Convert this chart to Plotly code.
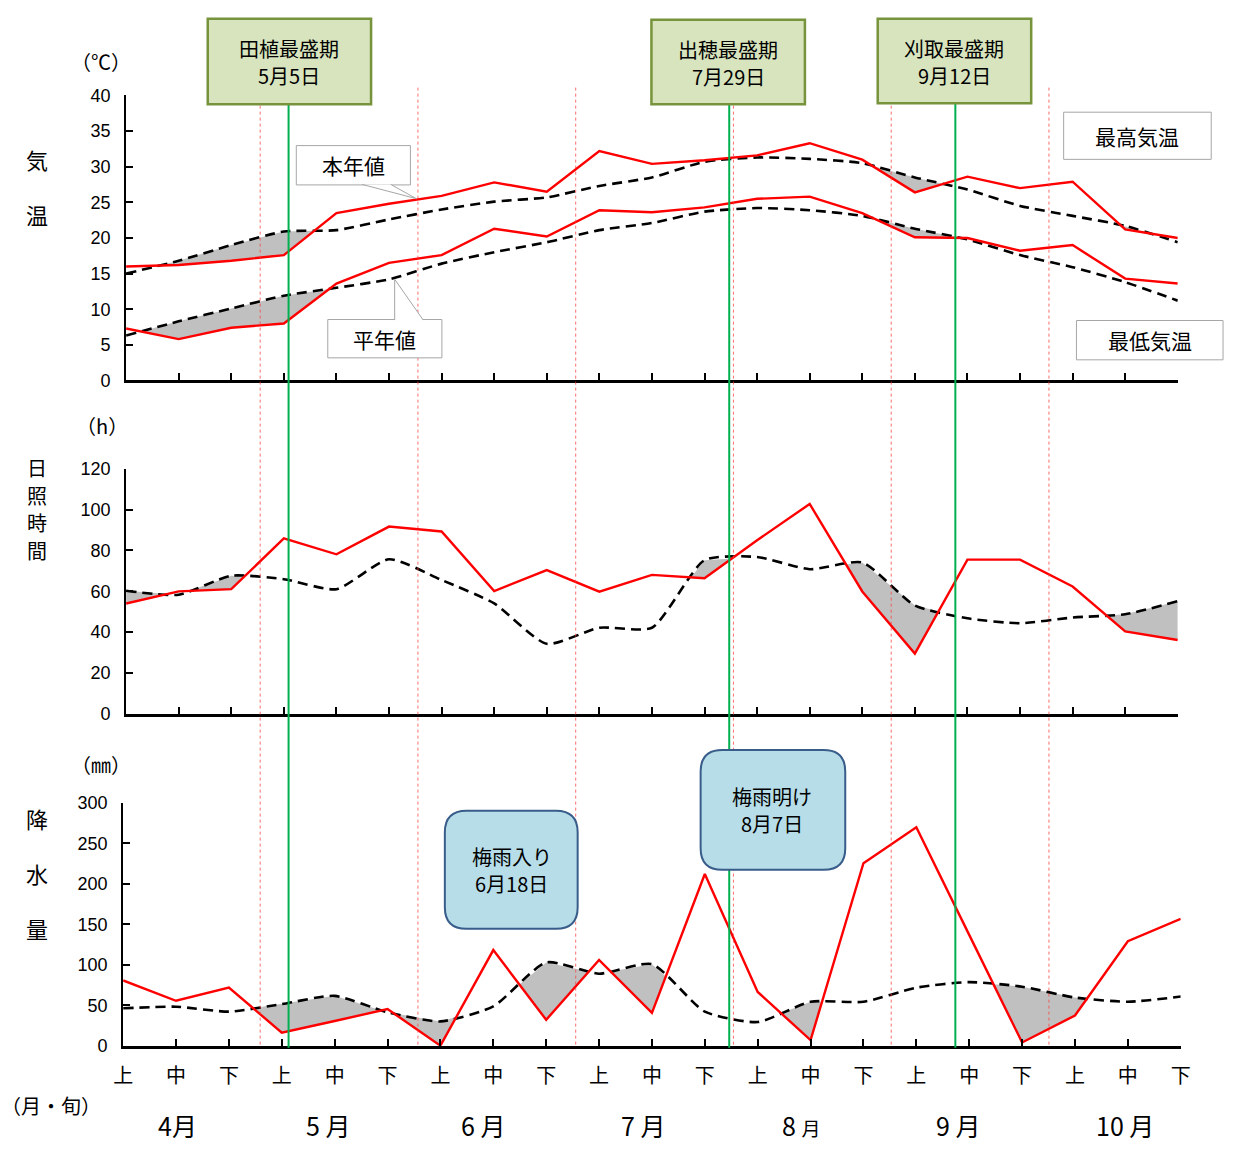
import plotly.graph_objects as go

W, H = 1235, 1151

# ---------------- data ----------------
month_labels = ["4月", "5 月", "6 月", "7 月", "8 <span style='font-size:19px'>月</span>", "9 月", "10 月"]
decade_labels = ["上", "中", "下"] * 7
periods = list(range(21))

tmax_obs = [16.0, 16.2, 16.8, 17.6, 23.5, 24.8, 25.9, 27.8, 26.5, 32.2, 30.4, 30.9, 31.6, 33.3, 31.0, 26.4, 28.6, 27.0, 27.9, 21.2, 20.0]
tmax_norm = [15.0, 16.8, 19.0, 20.9, 21.1, 22.6, 24.0, 25.1, 25.7, 27.3, 28.5, 30.7, 31.3, 31.1, 30.5, 28.5, 26.8, 24.5, 23.1, 21.7, 19.4]
tmin_obs = [7.3, 5.8, 7.4, 8.0, 13.6, 16.5, 17.6, 21.3, 20.2, 23.9, 23.6, 24.3, 25.5, 25.8, 23.5, 20.1, 20.0, 18.2, 19.0, 14.3, 13.6]
tmin_norm = [6.3, 8.3, 10.1, 11.9, 13.0, 14.2, 16.4, 18.0, 19.4, 21.1, 22.1, 23.7, 24.2, 23.9, 23.1, 21.3, 19.8, 17.6, 15.9, 13.8, 11.2]

sun_obs = [54.0, 59.9, 61.0, 85.9, 78.1, 91.7, 89.3, 60.1, 70.4, 59.8, 68.0, 66.4, 85.0, 102.8, 59.9, 29.4, 75.5, 75.5, 62.3, 40.3, 36.1]
sun_norm = [60.2, 58.3, 67.6, 65.9, 61.0, 75.7, 65.5, 54.0, 34.2, 42.1, 42.1, 75.2, 76.8, 70.8, 74.1, 53.0, 46.7, 44.3, 47.1, 48.7, 55.1]

prec_obs = [80.6, 55.5, 71.7, 16.2, 30.5, 45.3, 0.0, 118.2, 32.0, 106.0, 40.5, 212.2, 66.4, 6.9, 225.5, 270.0, 137.0, 4.0, 37.3, 129.1, 156.7]
prec_norm = [46.2, 48.2, 42.1, 51.4, 61.6, 41.3, 30.0, 48.6, 102.9, 89.0, 100.8, 42.1, 29.2, 54.3, 54.3, 71.7, 78.6, 72.9, 59.5, 54.3, 60.7]

# event positions (in decade index units)
events = [("田植最盛期", "5月5日", 3.09), ("出穂最盛期", "7月29日", 11.47), ("刈取最盛期", "9月12日", 15.77)]
month_bounds = [2.55, 5.55, 8.55, 11.55, 14.55, 17.55]

JP = "Noto Sans CJK JP"
NUM = "Liberation Sans, Arial, sans-serif"


def px(x):
    return x / W


def py(y):
    return 1 - y / H


def deficit_polygons(xs, obs, norm):
    pts = []
    n = len(xs)
    for i in range(n):
        pts.append((xs[i], obs[i], norm[i]))
        if i < n - 1:
            d0 = norm[i] - obs[i]
            d1 = norm[i + 1] - obs[i + 1]
            if d0 * d1 < 0:
                t = d0 / (d0 - d1)
                xc = xs[i] + t * (xs[i + 1] - xs[i])
                yc = obs[i] + t * (obs[i + 1] - obs[i])
                pts.append((xc, yc, yc))
    runs, cur = [], []
    for p in pts:
        if p[2] - p[1] >= -1e-9:
            cur.append(p)
        else:
            if len(cur) > 1:
                runs.append(cur)
            cur = []
    if len(cur) > 1:
        runs.append(cur)
    X, Y = [], []
    for r in runs:
        if max(p[2] - p[1] for p in r) <= 1e-9:
            continue
        X += [p[0] for p in r] + [p[0] for p in reversed(r)] + [r[0][0], None]
        Y += [p[1] for p in r] + [p[2] for p in reversed(r)] + [r[0][1], None]
    return X, Y


fig = go.Figure()

panels = [
    ("x", "y", [(tmax_obs, tmax_norm), (tmin_obs, tmin_norm)]),
    ("x2", "y2", [(sun_obs, sun_norm)]),
    ("x3", "y3", [(prec_obs, prec_norm)]),
]

for xa, ya, pairs in panels:
    for obs, norm in pairs:
        fx, fy = deficit_polygons(periods, obs, norm)
        fig.add_trace(go.Scatter(x=fx, y=fy, xaxis=xa, yaxis=ya, mode="lines", fill="toself",
                                 fillcolor="#c0c0c0", line=dict(width=0, color="#c0c0c0"),
                                 hoverinfo="skip", showlegend=False))
    for obs, norm in pairs:
        fig.add_trace(go.Scatter(x=periods, y=norm, xaxis=xa, yaxis=ya, mode="lines",
                                 line=dict(color="black", width=2.6, dash="10px,6px", shape="spline", smoothing=0.6),
                                 showlegend=False))
        fig.add_trace(go.Scatter(x=periods, y=obs, xaxis=xa, yaxis=ya, mode="lines",
                                 line=dict(color="#ff0000", width=2.4), showlegend=False))

xcommon = dict(range=[0, 20], tickvals=periods, ticks="inside", ticklen=7, tickwidth=2, tickcolor="black",
               showline=True, linecolor="black", linewidth=3, showgrid=False, zeroline=False)
ycommon = dict(ticks="inside", ticklen=7, tickwidth=2, tickcolor="black", showline=True, linecolor="black",
               linewidth=2, showgrid=False, zeroline=False, ticklabelstandoff=10,
               tickfont=dict(family=NUM, size=18, color="black"))

fig.update_layout(
    width=W, height=H, margin=dict(l=0, r=0, t=0, b=0),
    paper_bgcolor="white", plot_bgcolor="rgba(0,0,0,0)",
    xaxis=dict(domain=[px(118), px(1187)], anchor="y", showticklabels=False, **xcommon),
    yaxis=dict(domain=[py(377), py(87)], anchor="x", range=[0, 40], dtick=5, **ycommon),
    xaxis2=dict(domain=[px(118), px(1187)], anchor="y2", showticklabels=False, **xcommon),
    yaxis2=dict(domain=[py(716), py(467)], anchor="x2", range=[0, 120], dtick=20, **ycommon),
    xaxis3=dict(domain=[px(115), px(1190)], anchor="y3", showticklabels=True, ticktext=decade_labels,
                ticklabelstandoff=10, tickfont=dict(family=JP, size=20, color="black"), **xcommon),
    yaxis3=dict(domain=[py(1054), py(807)], anchor="x3", range=[0, 300], dtick=50, **ycommon),
)

shapes = []
annos = []

# month boundary lines (thin red dotted)
for b in month_bounds:
    shapes.append(dict(type="line", xref="x", yref="paper", x0=b, x1=b, y0=py(79), y1=py(1056),
                       line=dict(color="rgba(255,60,60,0.75)", width=1, dash="dot")))
# event lines (green)
for _, _, e in events:
    shapes.append(dict(type="line", xref="x", yref="paper", x0=e, x1=e, y0=py(95), y1=py(1056),
                       line=dict(color="#00b050", width=2)))


def rect(x0, y0, x1, y1, fill, line, lw):
    shapes.append(dict(type="rect", xref="paper", yref="paper", x0=px(x0), x1=px(x1), y0=py(y1), y1=py(y0),
                       fillcolor=fill, line=dict(color=line, width=lw)))


def text(x, y, s, size=21, family=JP, xanchor="center"):
    annos.append(dict(xref="paper", yref="paper", x=px(x), y=py(y), text=s, showarrow=False,
                      xanchor=xanchor, yanchor="middle",
                      font=dict(family=family, size=size, color="black")))


def rrect(x0, y0, x1, y1, r, fill, line, lw):
    rx, ry = r / W, r / H
    X0, X1, Y0, Y1 = px(x0), px(x1), py(y0), py(y1)
    p = (f"M {X0+rx},{Y0} L {X1-rx},{Y0} Q {X1},{Y0} {X1},{Y0-ry} L {X1},{Y1+ry} "
         f"Q {X1},{Y1} {X1-rx},{Y1} L {X0+rx},{Y1} Q {X0},{Y1} {X0},{Y1+ry} "
         f"L {X0},{Y0-ry} Q {X0},{Y0} {X0+rx},{Y0} Z")
    shapes.append(dict(type="path", xref="paper", yref="paper", path=p, fillcolor=fill,
                       line=dict(color=line, width=lw)))


# event boxes
boxes = [(201, 9, 367, 96), (652, 10, 808, 96), (882, 9, 1038, 95)]
for (t1, t2, _), (x0, y0, x1, y1) in zip(events, boxes):
    rect(x0, y0, x1, y1, "#d7e4bd", "#77933c", 2.5)
    cx = (x0 + x1) / 2
    text(cx, y0 + 30, t1, 20)
    text(cx, y0 + 58, t2, 20)

# callouts
rect(291, 138, 407, 178, "white", "#a6a6a6", 1)
shapes.append(dict(type="path", xref="paper", yref="paper",
                   path=f"M {px(358)},{py(177.5)} L {px(413)},{py(192)} L {px(387)},{py(177.5)}",
                   fillcolor="white", line=dict(color="#a6a6a6", width=1)))
text(349, 158, "本年値", 21)
rect(323, 315, 439, 354, "white", "#a6a6a6", 1)
shapes.append(dict(type="path", xref="paper", yref="paper",
                   path=f"M {px(391)},{py(315.5)} L {px(391)},{py(274)} L {px(420)},{py(315.5)}",
                   fillcolor="white", line=dict(color="#a6a6a6", width=1)))
text(381, 335, "平年値", 21)

# legend-like boxes
rect(1071, 104, 1221, 152, "white", "#a6a6a6", 1)
text(1146, 128, "最高気温", 21)
rect(1084, 316, 1233, 356, "white", "#a6a6a6", 1)
text(1159, 336, "最低気温", 21)

# rainy season boxes
rrect(442, 815, 577, 935, 22, "#b7dde8", "#385d8a", 2)
text(510, 861, "梅雨入り", 20)
text(510, 889, "6月18日", 20)
rrect(702, 753, 849, 875, 22, "#b7dde8", "#385d8a", 2)
text(775, 800, "梅雨明け", 20)
text(775, 828, "8月7日", 20)

# axis titles (vertical)
for ch, y in [("気", 152), ("温", 208)]:
    text(27, y, ch, 22)
for ch, y in [("日", 466), ("照", 494), ("時", 522), ("間", 550)]:
    text(27, y, ch, 20)
for ch, y in [("降", 822), ("水", 878), ("量", 934)]:
    text(27, y, ch, 22)

# units
text(92, 52, "（℃）", 20)
text(94, 423, "（h）", 20)
text(92, 768, "（㎜）", 20)
text(42, 1115, "（月・旬）", 20)

# month labels
month_x = [170, 323, 481, 643, 805, 964, 1133]
for m, x in zip(month_labels, month_x):
    text(x, 1135, m, 25)

fig.update_layout(shapes=shapes, annotations=annos)
fig.write_html("out.html", config={"displayModeBar": False},
               post_script="document.body.style.margin='0';document.body.style.overflow='hidden';")
